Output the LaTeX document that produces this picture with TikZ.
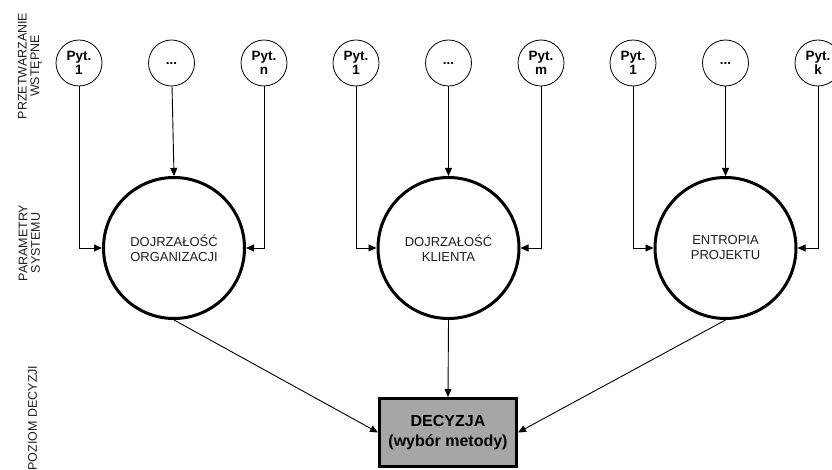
\documentclass[tikz,border=0pt]{standalone}
\usepackage{fontspec}
\setmainfont{Liberation Sans}
\usetikzlibrary{arrows.meta}
\definecolor{boxgray}{RGB}{166,166,166}
\definecolor{txt}{RGB}{30,30,30}
\begin{document}
\begin{tikzpicture}[x=1pt,y=-1pt,
 q/.style={circle,draw,line width=0.8pt,minimum size=46pt,inner sep=0pt,align=center,font=\fontsize{13.5}{13.5}\selectfont\bfseries},
 param/.style={circle,draw,line width=3pt,minimum size=141pt,inner sep=0pt,align=center,text=txt,font=\fontsize{13}{15}\selectfont},
 decbox/.style={rectangle,draw,line width=3pt,fill=boxgray,minimum width=137pt,minimum height=68pt,align=center,font=\fontsize{16}{20}\selectfont\bfseries},
 lvl/.style={rotate=90,align=center,text=txt,font=\fontsize{12.5}{12.5}\selectfont},
 conn/.style={line width=0.9pt,-{Triangle[length=8pt,width=7pt]}}
]
\useasboundingbox (0,0) rectangle (832,470);
% level labels
\node[lvl] (l1) at (30,66) {PRZETWARZANIE\\WSTĘPNE};
\node[lvl] (l2) at (29.5,243) {PARAMETRY\\SYSTEMU};
\node[lvl] (l3) at (32.5,418) {POZIOM DECYZJI};
% small circles
\node[q] (a1) at (79,63) {Pyt.\\1};
\node[q] (a2) at (171.5,63) {...};
\node[q] (a3) at (264,63) {Pyt.\\n};
\node[q] (b1) at (356,63) {Pyt.\\1};
\node[q] (b2) at (448.5,63) {...};
\node[q] (b3) at (541,63) {Pyt.\\m};
\node[q] (c1) at (633,63) {Pyt.\\1};
\node[q] (c2) at (725.5,63) {...};
\node[q] (c3) at (818,63) {Pyt.\\k};
% parameter circles
\node[param] (A) at (174,248) {DOJRZAŁOŚĆ\\ORGANIZACJI};
\node[param] (B) at (448.5,248) {DOJRZAŁOŚĆ\\KLIENTA};
\node[param] (C) at (725.5,248) {ENTROPIA\\PROJEKTU};
% decision
\node[decbox] (D) at (448,432.5) {DECYZJA\\(wybór metody)};
% connectors
\draw[conn] (a1) |- (A.west);
\draw[conn] (a2) -- (A.north);
\draw[conn] (a3) |- (A.east);
\draw[conn] (b1) |- (B.west);
\draw[conn] (b2) -- (B.north);
\draw[conn] (b3) |- (B.east);
\draw[conn] (c1) |- (C.west);
\draw[conn] (c2) -- (C.north);
\draw[conn] (c3) |- (C.east);
\draw[conn] (A.south) -- (D.west);
\draw[conn] (B.south) -- (D.north);
\draw[conn] (C.south) -- (D.east);
\end{tikzpicture}
\end{document}
